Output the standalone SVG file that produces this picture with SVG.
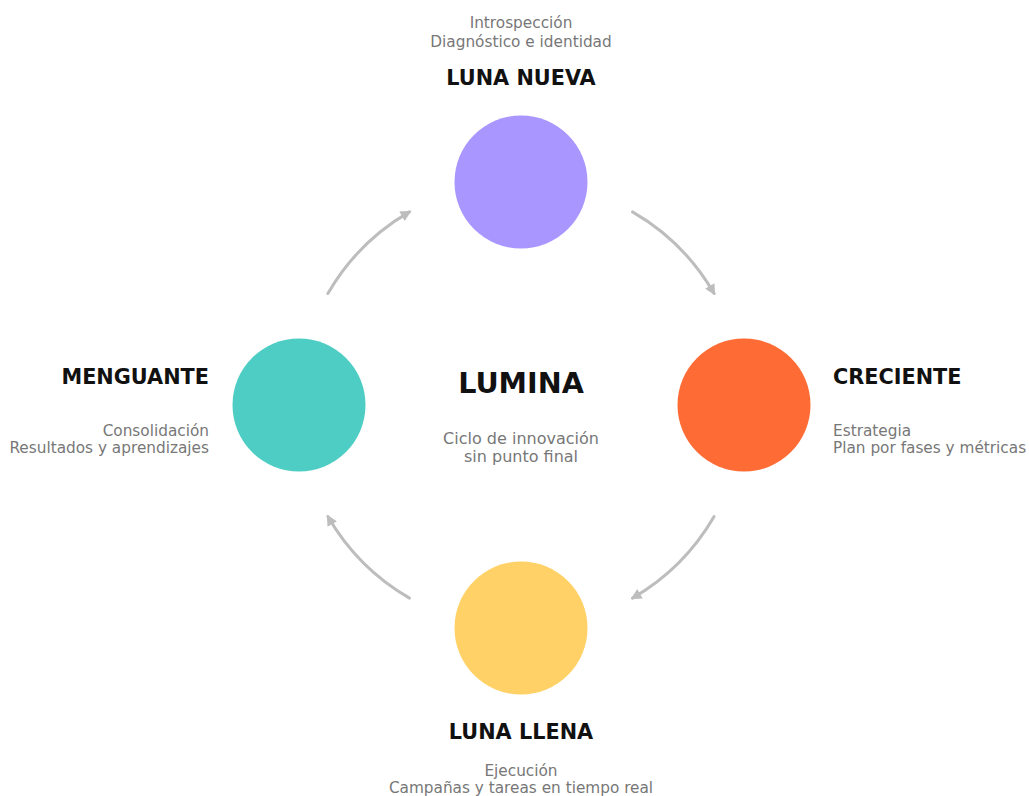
<svg xmlns="http://www.w3.org/2000/svg" width="1029" height="796" viewBox="0 0 1029 796">
  <defs>
    <marker id="arrow" viewBox="0 0 10 10" refX="8" refY="5" markerWidth="4" markerHeight="3.6" orient="auto" markerUnits="strokeWidth">
      <path d="M0,0 L10,5 L0,10 Z" fill="#bdbdbd"/>
    </marker>
    <style>
      .title { font-family: "DejaVu Sans", sans-serif; font-weight: bold; font-size: 20.8px; fill: #111; }
      .sub { font-family: "DejaVu Sans", sans-serif; font-size: 15.3px; fill: #777; }
      .center { font-family: "DejaVu Sans", sans-serif; font-weight: bold; font-size: 28.6px; fill: #111; }
      .center-sub { font-family: "DejaVu Sans", sans-serif; font-size: 16px; fill: #777; }
      .arc { fill: none; stroke: #bdbdbd; stroke-width: 3; stroke-linecap: round; marker-end: url(#arrow); }
    </style>
  </defs>
  <rect width="1029" height="796" fill="#ffffff"/>

  <!-- cycle arcs, radius 223 around the hub -->
  <g id="connectors">
    <path class="arc" d="M632.5,211.9 A223,223 0 0 1 714.1,293.5"/>
    <path class="arc" d="M714.1,516.5 A223,223 0 0 1 632.5,598.1"/>
    <path class="arc" d="M409.5,598.1 A223,223 0 0 1 327.9,516.5"/>
    <path class="arc" d="M327.9,293.5 A223,223 0 0 1 409.5,211.9"/>
  </g>

  <g id="hub">
    <text class="center" x="521" y="393" text-anchor="middle">LUMINA</text>
    <text class="center-sub" x="521" y="444" text-anchor="middle">Ciclo de innovación</text>
    <text class="center-sub" x="521" y="462" text-anchor="middle">sin punto final</text>
  </g>

  <g id="luna-nueva">
    <circle cx="521" cy="182" r="66.5" fill="#a996ff"/>
    <text class="sub" x="521" y="28" text-anchor="middle">Introspección</text>
    <text class="sub" x="521" y="47" text-anchor="middle">Diagnóstico e identidad</text>
    <text class="title" x="521" y="85" text-anchor="middle">LUNA NUEVA</text>
  </g>

  <g id="creciente">
    <circle cx="744" cy="405" r="66.5" fill="#ff6b35"/>
    <text class="title" x="833" y="384">CRECIENTE</text>
    <text class="sub" x="833" y="436">Estrategia</text>
    <text class="sub" x="833" y="453">Plan por fases y métricas</text>
  </g>

  <g id="luna-llena">
    <circle cx="521" cy="628" r="66.5" fill="#ffd166"/>
    <text class="title" x="521" y="739" text-anchor="middle">LUNA LLENA</text>
    <text class="sub" x="521" y="776" text-anchor="middle">Ejecución</text>
    <text class="sub" x="521" y="793" text-anchor="middle">Campañas y tareas en tiempo real</text>
  </g>

  <g id="menguante">
    <circle cx="299" cy="405" r="66.5" fill="#4ecdc4"/>
    <text class="title" x="209" y="384" text-anchor="end">MENGUANTE</text>
    <text class="sub" x="209" y="436" text-anchor="end">Consolidación</text>
    <text class="sub" x="209" y="453" text-anchor="end">Resultados y aprendizajes</text>
  </g>
</svg>
